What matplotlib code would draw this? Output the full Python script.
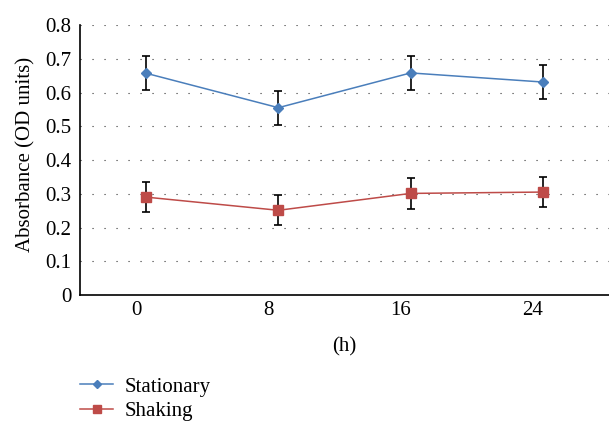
import matplotlib
matplotlib.use("Agg")
import matplotlib.pyplot as plt
import matplotlib.transforms as mtransforms
import numpy as np

# data
hours = ["0", "8", "16", "24"]
stationary = [0.657, 0.555, 0.658, 0.631]
stationary_err = [0.05, 0.05, 0.05, 0.05]
shaking = [0.290, 0.251, 0.301, 0.305]
shaking_err = [0.045, 0.045, 0.045, 0.045]
yticks = [0, 0.1, 0.2, 0.3, 0.4, 0.5, 0.6, 0.7, 0.8]
ytick_labels = ["0", "0.1", "0.2", "0.3", "0.4", "0.5", "0.6", "0.7", "0.8"]

plt.rcParams['font.family'] = ['Liberation Serif', 'DejaVu Serif']
plt.rcParams['font.size'] = 15

fig = plt.figure(figsize=(6.09, 4.24), dpi=100)
ax = fig.add_axes([80/609, 1 - 295/424, 529/609, 270/424])

x = np.arange(len(hours))
blue = '#4A7EBB'
red = '#BE4B48'

ax.errorbar(x, stationary, yerr=stationary_err, color=blue, lw=1.1,
            marker='D', ms=5.5, mfc=blue, mec=blue,
            ecolor='black', elinewidth=1.2, capsize=3, capthick=1.2,
            label='Stationary', zorder=3)
ax.errorbar(x, shaking, yerr=shaking_err, color=red, lw=1.1,
            marker='s', ms=7, mfc=red, mec=red,
            ecolor='black', elinewidth=1.2, capsize=3, capthick=1.2,
            label='Shaking', zorder=3)

ax.set_xlim(-0.5, 3.5)
ax.set_ylim(0, 0.8)
ax.set_xticks(x)
ax.set_xticklabels(hours)
ax.set_yticks(yticks)
ax.set_yticklabels(ytick_labels)
ax.tick_params(length=0)
ax.tick_params(axis='y', pad=6)
ax.tick_params(axis='x', pad=4)

# tick labels sit a bit left of the points in the original
off = mtransforms.ScaledTranslation(-10/100, 0, fig.dpi_scale_trans)
for lab in ax.get_xticklabels():
    lab.set_transform(lab.get_transform() + off)

ax.yaxis.grid(True, color='#333333', linestyle=(0, (1, 9.8)), linewidth=0.8)
ax.set_axisbelow(True)
for s in ['top', 'right']:
    ax.spines[s].set_visible(False)
ax.spines['left'].set_linewidth(1.2)
ax.spines['bottom'].set_linewidth(1.2)

ax.set_xlabel('(h)', labelpad=12.5)
ax.set_ylabel('Absorbance (OD units)')
ax.yaxis.set_label_coords(-0.084, 0.52)

h, l = ax.get_legend_handles_labels()
h = [hh[0] for hh in h]
fig.legend(h, l, loc='upper left', bbox_to_anchor=(80/609, 1 - 377/424),
           frameon=False, handlelength=1.6, handletextpad=0.55,
           labelspacing=0.25, borderpad=0, borderaxespad=0, markerscale=0.8)

fig.savefig('out.png', dpi=100)
